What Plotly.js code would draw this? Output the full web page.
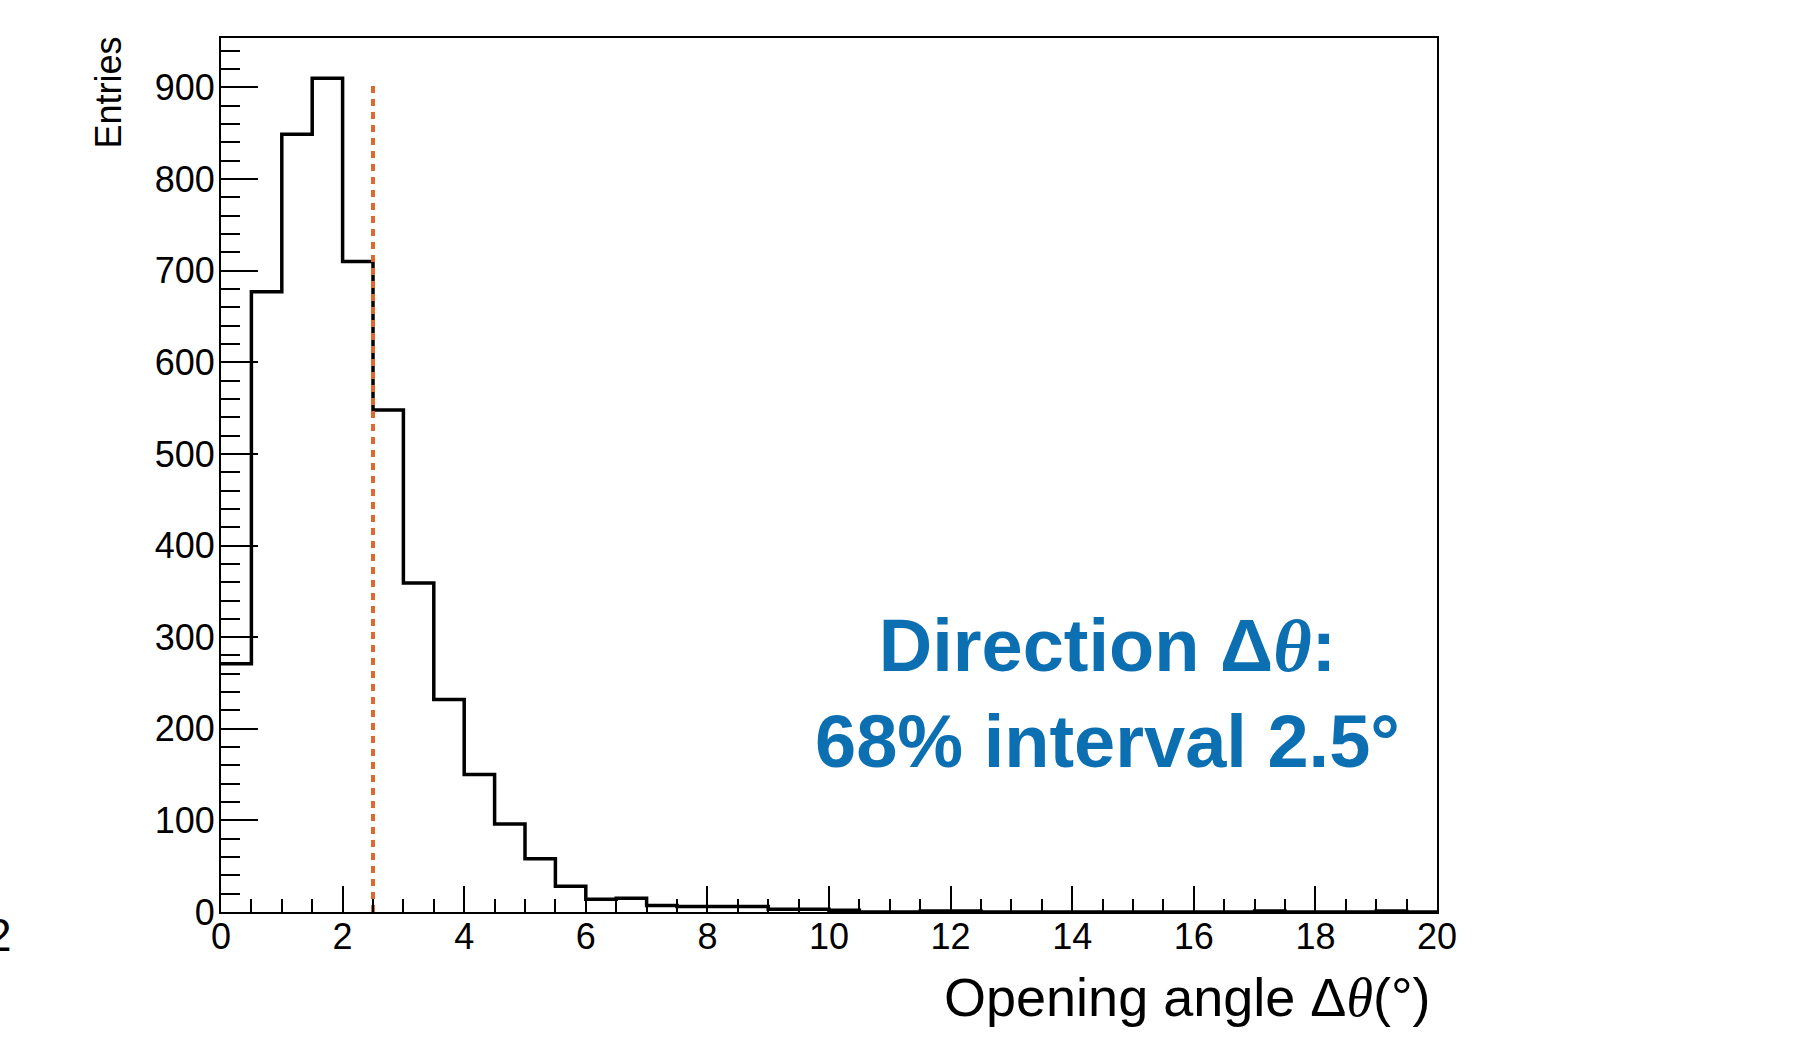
<!DOCTYPE html>
<html>
<head>
<meta charset="utf-8">
<script src="https://cdn.plot.ly/plotly-3.0.1.min.js"></script>
<style>
  html, body { margin: 0; padding: 0; background: #ffffff; }
  #chart { width: 1815px; height: 1037px; }
</style>
</head>
<body>
<div id="chart"></div>
<script>
// ---- data ----
const binStart = 0;          // first bin lower edge (degrees)
const binWidth = 0.5;        // bin width (degrees)
const entries = [
  271, 677, 849, 910, 710, 548, 359, 232, 150, 96,
  58, 28, 14, 15, 7, 6, 6, 6, 3, 3,
  2, 0, 0, 1, 1, 0, 0, 0, 0, 0,
  0, 0, 0, 0, 1, 0, 0, 0, 1, 0
];
const interval68 = 2.5;      // 68% interval marker position
const markerTop = [0, 905];  // marker line extent in entries
const xTickVals = [0, 2, 4, 6, 8, 10, 12, 14, 16, 18, 20];
const yTickVals = [0, 100, 200, 300, 400, 500, 600, 700, 800, 900];
const xRange = [0, 20];
const yRange = [0, 954];
const THETA = '<span style="font-family:\'Liberation Serif\', serif;font-style:italic">θ</span>';
const xTitle = 'Opening angle Δ' + THETA + '(°)';
const yTitle = 'Entries';
const noteLine1 = 'Direction Δ' + THETA + ':';
const noteLine2 = '68% interval 2.5°';
const strayText = '2';

// step outline: edges with last value repeated
const edges = entries.map((_, i) => binStart + i * binWidth).concat([binStart + entries.length * binWidth]);
const stepY = entries.concat([entries[entries.length - 1]]);

const FONT = 'Liberation Sans, Arial, Helvetica, sans-serif';

const traces = [
  {
    type: 'scatter', mode: 'lines',
    x: edges, y: stepY,
    line: { shape: 'hv', color: '#000000', width: 3.5 },
    cliponaxis: false, hoverinfo: 'skip', showlegend: false
  },
  {
    type: 'scatter', mode: 'lines',
    x: [interval68, interval68], y: markerTop,
    line: { color: '#e0682c', width: 4, dash: '7px,6px' },
    hoverinfo: 'skip', showlegend: false
  }
];

const layout = {
  width: 1815, height: 1037,
  paper_bgcolor: '#ffffff', plot_bgcolor: '#ffffff',
  margin: { l: 221, r: 378, t: 38, b: 125, pad: 0 },
  font: { family: FONT, color: '#000000' },
  showlegend: false,
  xaxis: {
    range: xRange, tickvals: xTickVals, ticktext: xTickVals.map(String),
    ticks: 'inside', ticklen: 26, tickwidth: 2, tickcolor: '#000',
    minor: { dtick: binWidth, ticks: 'inside', ticklen: 13, tickwidth: 2, tickcolor: '#000', showgrid: false },
    showline: true, linecolor: '#000', linewidth: 2, mirror: true,
    showgrid: false, zeroline: false,
    ticklabelstandoff: -8,
    tickfont: { size: 36, family: FONT, color: '#000' }
  },
  yaxis: {
    range: yRange, tickvals: yTickVals, ticktext: yTickVals.map(String),
    ticks: 'inside', ticklen: 37, tickwidth: 2, tickcolor: '#000',
    minor: { dtick: 20, ticks: 'inside', ticklen: 19, tickwidth: 2, tickcolor: '#000', showgrid: false },
    showline: true, linecolor: '#000', linewidth: 2, mirror: true,
    showgrid: false, zeroline: false,
    ticklabelstandoff: -3,
    tickfont: { size: 36, family: FONT, color: '#000' }
  },
  annotations: [
    {
      xref: 'paper', yref: 'paper', x: -0.0921, y: 0.9376,
      xanchor: 'center', yanchor: 'middle', textangle: -90,
      text: yTitle, showarrow: false,
      font: { size: 36, family: FONT, color: '#000' }
    },
    {
      xref: 'paper', yref: 'paper', x: 0.9959, y: -0.0977,
      xanchor: 'right', yanchor: 'middle',
      text: xTitle, showarrow: false,
      font: { size: 54, family: FONT, color: '#000' }
    },
    {
      xref: 'paper', yref: 'paper', x: 0.7294, y: 0.2499,
      xanchor: 'center', yanchor: 'middle', align: 'center',
      text: '<b>' + noteLine1 + '<br>' + noteLine2 + '</b>', showarrow: false,
      font: { size: 74, family: FONT, color: '#0b6fb2' }
    },
    {
      xref: 'paper', yref: 'paper', x: -0.1826, y: -0.0267,
      xanchor: 'center', yanchor: 'middle',
      text: strayText, showarrow: false,
      font: { size: 46, family: FONT, color: '#000' }
    }
  ]
};

Plotly.newPlot('chart', traces, layout, { staticPlot: true, displayModeBar: false });
</script>
</body>
</html>
